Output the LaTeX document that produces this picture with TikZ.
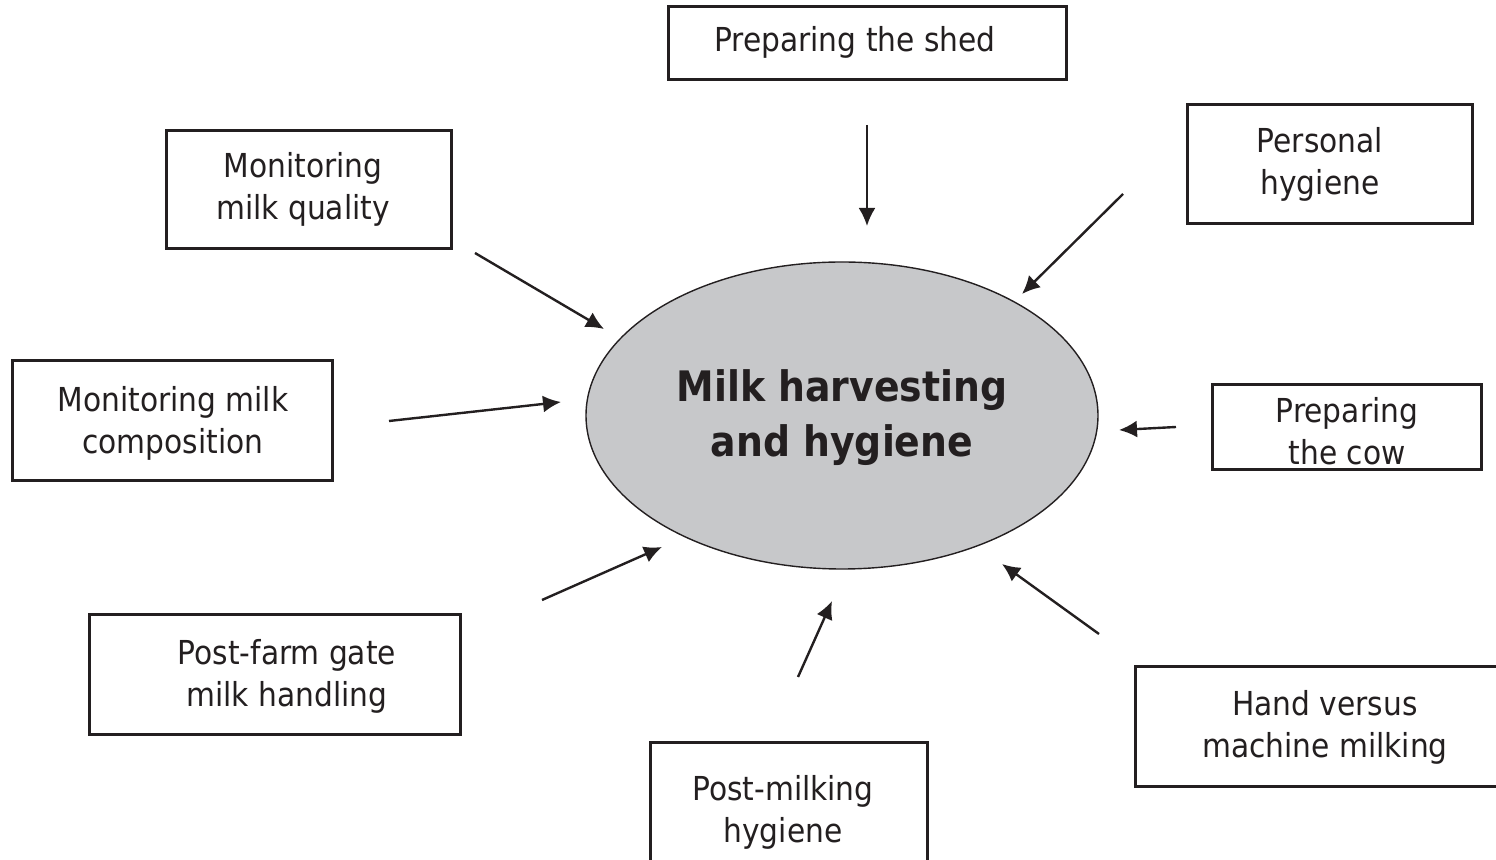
\documentclass[tikz,border=0pt]{standalone}
\usepackage{fontspec}
\setmainfont{DejaVu Sans Condensed}
\usetikzlibrary{arrows.meta,shapes.geometric}
\definecolor{ink}{RGB}{35,31,32}
\definecolor{hubfill}{RGB}{199,200,202}
\begin{document}
\begin{tikzpicture}[x=0.5pt,y=-0.5pt,
  frame/.style={draw=ink, line width=1.5pt, inner sep=0pt},
  caption/.style={align=center, inner sep=0pt, text=ink,
    font=\fontsize{16.5}{21}\selectfont},
  hub/.style={ellipse, draw=ink, line width=0.7pt, fill=hubfill, inner sep=0pt,
    minimum width=256pt, minimum height=153.5pt},
  hubtext/.style={align=center, inner sep=0pt, text=ink,
    font=\bfseries\fontsize{21}{27.5}\selectfont},
  feed/.style={draw=ink, line width=1.2pt, -{Latex[length=9pt,width=8.5pt]}}]
\path[use as bounding box] (0,0) rectangle (1496,860);
\clip (0,0) rectangle (1496,860);

% central topic
\node[hub] (hub) at (842,415.5) {};
\node[hubtext] (hubT) at (842,418) {Milk harvesting\\and hygiene};

% surrounding topic frames
\node[frame, minimum width=199pt, minimum height=36.5pt] (shed) at (867,43.5) {};
\node[frame, minimum width=142.5pt, minimum height=59pt] (quality) at (308.5,190) {};
\node[frame, minimum width=142.5pt, minimum height=59.5pt] (personal) at (1329.5,164.5) {};
\node[frame, minimum width=160pt, minimum height=60pt] (comp) at (172,421) {};
\node[frame, minimum width=134.5pt, minimum height=42.5pt] (cow) at (1346.5,427.5) {};
\node[frame, minimum width=185.5pt, minimum height=60pt] (postfarm) at (274.5,675) {};
\node[frame, minimum width=190pt, minimum height=60pt] (hand) at (1325,727) {};
\node[frame, minimum width=138.5pt, minimum height=68pt] (postmilk) at (788.5,811) {};

% topic captions
\node[caption] (shedT) at (855,42) {Preparing the shed};
\node[caption] (qualityT) at (303,189) {Monitoring\\milk quality};
\node[caption] (personalT) at (1320,164) {Personal\\hygiene};
\node[caption] (compT) at (173,423) {Monitoring milk\\composition};
\node[caption] (cowT) at (1347,431) {Preparing\\the cow};
\node[caption] (postfarmT) at (287,676) {Post-farm gate\\milk handling};
\node[caption] (handT) at (1325,727) {Hand versus\\machine milking};
\node[caption] (postmilkT) at (783,812) {Post-milking\\hygiene};

% arrow end points
\coordinate (shedA) at (867,125);   \coordinate (shedB) at (867,226);
\coordinate (persA) at (1123,194);  \coordinate (persB) at (1022,294);
\coordinate (qualA) at (475,253);   \coordinate (qualB) at (604,329);
\coordinate (compA) at (389,421);   \coordinate (compB) at (561,402);
\coordinate (cowA) at (1176,427);   \coordinate (cowB) at (1119,430);
\coordinate (farmA) at (542,600);   \coordinate (farmB) at (662,547);
\coordinate (pmilkA) at (798,677);  \coordinate (pmilkB) at (832,601);
\coordinate (handA) at (1099,634);  \coordinate (handB) at (1002,564);

\draw[feed] (shedA) -- (shedB);
\draw[feed] (persA) -- (persB);
\draw[feed] (qualA) -- (qualB);
\draw[feed] (compA) -- (compB);
\draw[feed] (cowA) -- (cowB);
\draw[feed] (farmA) -- (farmB);
\draw[feed] (pmilkA) -- (pmilkB);
\draw[feed] (handA) -- (handB);
\end{tikzpicture}
\end{document}
